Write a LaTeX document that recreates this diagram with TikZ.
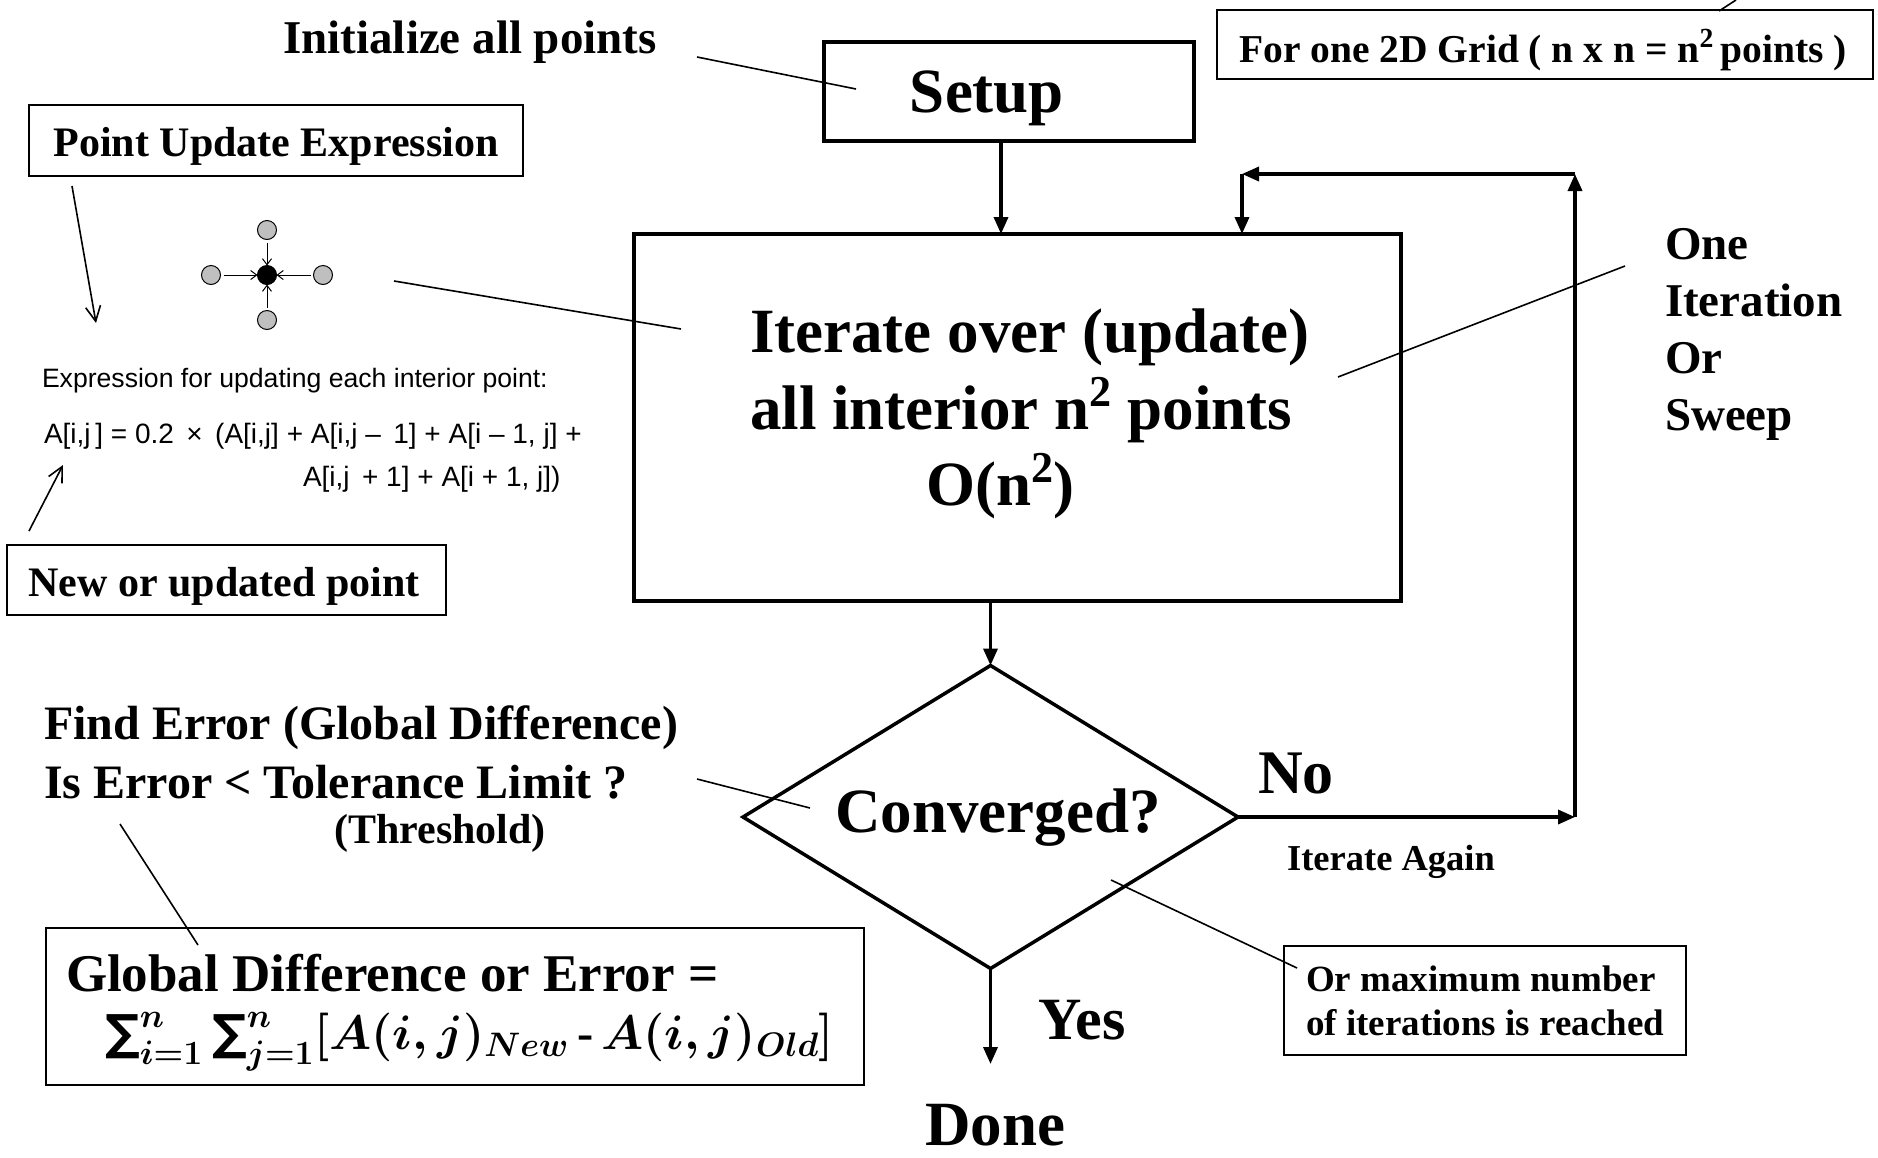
\documentclass[tikz,border=0pt]{standalone}
\usepackage{fix-cm}
\usepackage{graphicx}
\usepackage{fontspec}
\setmainfont{Liberation Serif}
\newfontfamily\arialfont{Liberation Sans}
\newfontfamily\sumfont{DejaVu Sans}
\usetikzlibrary{arrows.meta,shapes.geometric}
\newcommand{\fsz}[2]{\fontsize{#1}{#2}\selectfont}
\newcommand{\bsum}{\mathop{\mbox{\sumfont\bfseries ∑}}\nolimits}
\newsavebox{\errbox}
\begin{document}
\sbox{\errbox}{\resizebox{729pt}{!}{\fsz{50pt}{56pt}\boldmath$\textstyle\bsum_{i=1}^{n}\bsum_{j=1}^{n}[A(i,j)_{New}$\,\textbf{-}\,$A(i,j)_{Old}]$}}%
\begin{tikzpicture}[x=1pt,y=-1pt,
  every node/.style={inner sep=0pt, outer sep=0pt},
  flowbox/.style={draw, line width=3.5pt},
  notebox/.style={draw, line width=2pt},
  flow/.style={line width=3.5pt, -{Triangle[length=17pt,width=14pt]}},
  note/.style={line width=1.6pt},
  notearrow/.style={line width=1.6pt, -{Straight Barb[length=15pt,width=15pt,line width=1.6pt]}},
  gcirc/.style={circle, draw, line width=1pt, fill=gray!50, minimum size=19pt},
  bcirc/.style={circle, draw, line width=1pt, fill=black, minimum size=19pt},
  sarrow/.style={line width=1pt, -{Straight Barb[length=6pt,width=9pt,line width=1pt]}},
  bigtext/.style={font=\bfseries\fsz{63pt}{70pt}}
]
\useasboundingbox (0,0) rectangle (1878,1157);

% ---- Setup ----
\node[flowbox, minimum width=370pt, minimum height=99pt] (setup) at (1009,91.5) {};
\node[bigtext] (setuptext) at (987,98) {Setup};

% ---- Iterate ----
\node[flowbox, minimum width=767pt, minimum height=367pt] (iter) at (1017.5,417.5) {};
\node[anchor=west, align=left, font=\bfseries\fsz{63pt}{76.5pt}] (itertext) at (750,414)
  {Iterate over (update)\\all interior n\textsuperscript{2} points\\\hspace*{176pt}O(n\textsuperscript{2})};

% ---- Decision ----
\node[diamond, draw, line width=3.5pt, minimum width=495pt, minimum height=303pt, aspect=1.63] (conv) at (990.5,817) {};
\node[bigtext] (convtext) at (998,818) {Converged?};

% ---- Done ----
\node[bigtext] (done) at (995,1125) {Done};
\coordinate (doneend) at (989,1064);

% ---- flow arrows ----
\coordinate (sx) at (1001,0);
\draw[flow] (setup.south -| sx) -- (iter.north -| sx);
\draw[flow] (iter.south -| conv.north) -- (conv.north);
\draw[flow] (conv.south) -- (conv.south |- doneend);
\coordinate (loopTR) at (1575,174);
\coordinate (loopTL) at (1242,174);
\draw[flow] (conv.east) -- (conv.east -| loopTR);
\draw[flow] (conv.east -| loopTR) -- (loopTR);
\draw[flow] (loopTR) -- (loopTL);
\draw[flow] (loopTL) -- (iter.north -| loopTL);

\node[font=\bfseries\fsz{60pt}{66pt}] (yes) at (1082,1020) {Yes};
\node[font=\bfseries\fsz{62pt}{66pt}] (no) at (1296,773) {No};
\node[font=\bfseries\fsz{36.5pt}{40pt}] (again) at (1391,862) {Iterate Again};

% ---- Initialize ----
\node[font=\bfseries\fsz{47pt}{52pt}] (init) at (470,42) {Initialize all points};
\coordinate (initA) at (697,57);
\coordinate (initB) at (856,89);
\draw[note] (initA) -- (initB);

% ---- Point update expression ----
\node[notebox, minimum width=494pt, minimum height=71pt] (pue) at (276,140.5) {};
\node[font=\bfseries\fsz{42pt}{46pt}] (puetext) at (276,146) {Point Update Expression};
\coordinate (pueA) at (72,186);
\coordinate (pueB) at (96,323);
\draw[notearrow] (pueA) -- (pueB);

% stencil
\node[bcirc] (sc) at (267,275) {};
\node[gcirc] (sl) at (211,275) {};
\node[gcirc] (sr) at (323,275) {};
\node[gcirc] (st) at (267,230) {};
\node[gcirc] (sb) at (267,320) {};
\draw[sarrow, shorten <=3pt] (sl) -- (sc);
\draw[sarrow, shorten <=3pt] (sr) -- (sc);
\draw[sarrow, shorten <=3pt] (st) -- (sc);
\draw[sarrow, shorten <=3pt] (sb) -- (sc);
\coordinate (stA) at (394,281);
\coordinate (stB) at (681,329);
\draw[note] (stA) -- (stB);

\node[anchor=west, font=\arialfont\fsz{26.6pt}{30pt}] (exprtitle) at (42,381) {Expression for updating each interior point:};
\node[anchor=west, font=\arialfont\fsz{28pt}{30pt}] (expr1) at (44,436) {A[i,j\,] = 0.2 \,×\, (A[i,j] + A[i,j –\, 1] + A[i – 1, j] +};
\node[anchor=west, font=\arialfont\fsz{28pt}{30pt}] (expr2) at (303,479) {A[i,j \,+ 1] + A[i + 1, j])};

\coordinate (newA) at (29,531);
\coordinate (newB) at (63,465);
\draw[notearrow] (newA) -- (newB);
\node[notebox, minimum width=439pt, minimum height=70pt] (newpt) at (226.5,580) {};
\node[font=\bfseries\fsz{42pt}{46pt}] (newpttext) at (224,586) {New or updated point};

% ---- Error text ----
\node[anchor=west, font=\bfseries\fsz{48pt}{52pt}] (find) at (44,728) {Find Error (Global Difference)};
\node[anchor=west, font=\bfseries\fsz{48pt}{52pt}] (iserr) at (44,782) {Is Error < Tolerance Limit ?};
\node[font=\bfseries\fsz{42pt}{46pt}] (thresh) at (440,833) {(Threshold)};
\coordinate (errA) at (697,779);
\coordinate (errB) at (810,808);
\draw[note] (errA) -- (errB);
\coordinate (fbA) at (120,824);
\coordinate (fbB) at (198,945);
\draw[note] (fbA) -- (fbB);

% ---- Formula box ----
\node[notebox, minimum width=818pt, minimum height=157pt] (formbox) at (455,1006.5) {};
\node[anchor=west, font=\bfseries\fsz{53pt}{58pt}] (glob1) at (66,973) {Global Difference or Error =};
\node[anchor=west] (glob2) at (105,1042) {\usebox{\errbox}};

% ---- Right side ----
\node[notebox, line width=2.5pt, minimum width=656pt, minimum height=69pt] (grid) at (1545,44.5) {};
\node[font=\bfseries\fsz{39.5pt}{44pt}] (gridtext) at (1543,50) {For one 2D Grid ( n x n = n\textsuperscript{2}\,points )};
\coordinate (gridA) at (1719,11);
\coordinate (gridB) at (1736,0);
\draw[note] (gridA) -- (gridB);

\node[anchor=west, align=left, font=\bfseries\fsz{47pt}{57pt}] (oneit) at (1665,334) {One\\Iteration\\Or\\Sweep};
\coordinate (oiA) at (1338,377);
\coordinate (oiB) at (1625,266);
\draw[note] (oiA) -- (oiB);

\node[notebox, minimum width=402pt, minimum height=109pt, align=left, font=\bfseries\fsz{37pt}{44pt}] (maxit) at (1485,1000.5) {Or maximum number\\of iterations is reached};
\coordinate (mxA) at (1111,880);
\coordinate (mxB) at (1297,968);
\draw[note] (mxA) -- (mxB);
\end{tikzpicture}
\end{document}
